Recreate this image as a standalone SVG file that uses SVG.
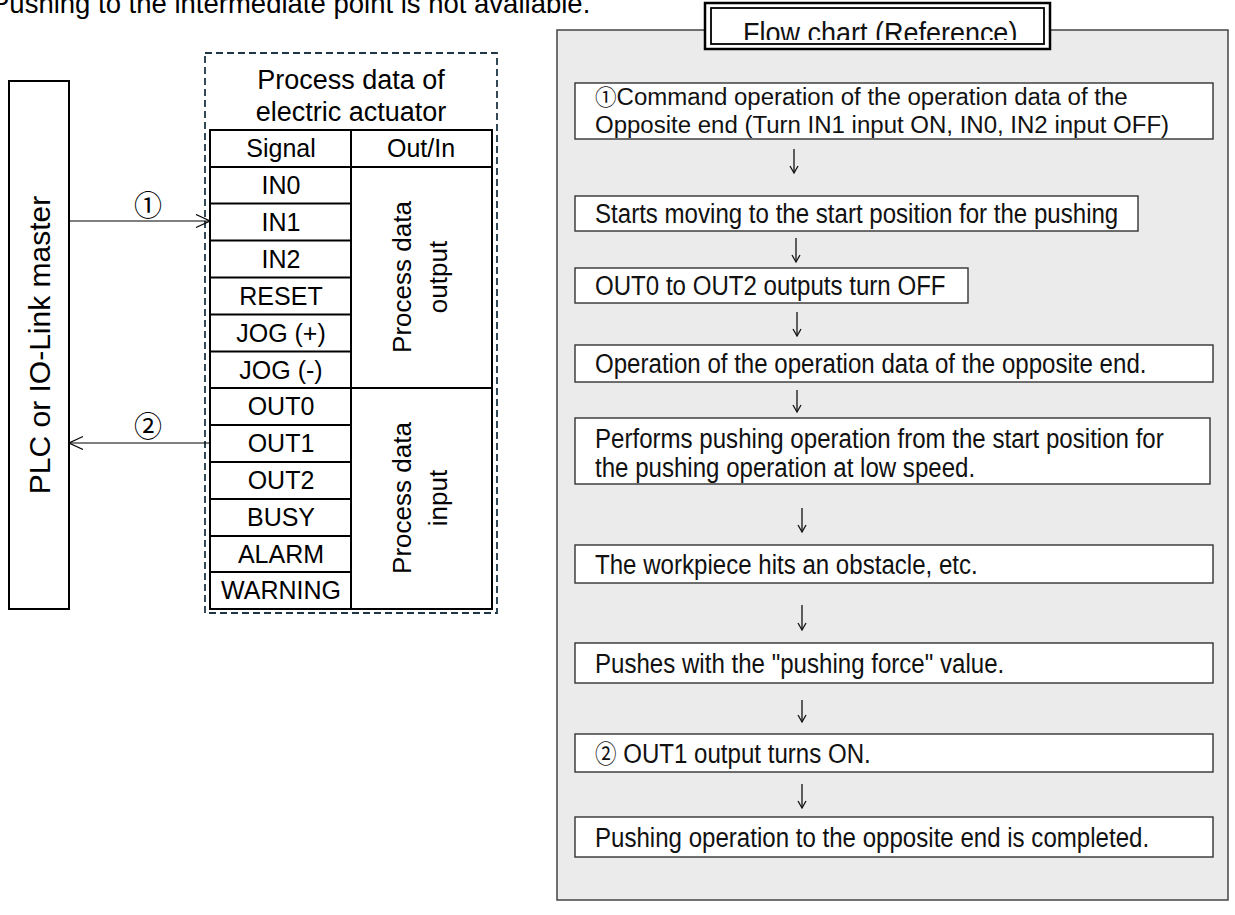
<svg xmlns="http://www.w3.org/2000/svg" width="1235" height="915" viewBox="0 0 1235 915">
<defs>
<style>
.t{font-family:"Liberation Sans","DejaVu Sans",Arial,sans-serif;fill:#000}
.cj{font-family:"Noto Sans CJK JP","Liberation Sans",sans-serif}
.box{fill:#fff;stroke:#000;stroke-width:2}
.cell{fill:none;stroke:#000;stroke-width:2}
.ln{stroke:#000;stroke-width:1.2;fill:none}
.fb{fill:#fff;stroke:#333;stroke-width:1.4}
.ft{font-family:"Liberation Sans","DejaVu Sans",Arial,sans-serif;font-size:28px;fill:#111}
.ft1{font-family:"Liberation Sans","DejaVu Sans",Arial,sans-serif;font-size:24.5px;fill:#111}
.dn{stroke:#111;stroke-width:1.3;fill:none}
</style>
<marker id="ah" markerWidth="16" markerHeight="16" refX="15" refY="7" orient="auto" markerUnits="userSpaceOnUse">
<path d="M1,0.5 L15,7 L1,13.5" fill="none" stroke="#000" stroke-width="1.2"/>
</marker>
<marker id="dh" markerWidth="12" markerHeight="12" refX="5" refY="9" orient="0" markerUnits="userSpaceOnUse">
<path d="M1,2 L5,9 L9,2" fill="none" stroke="#111" stroke-width="1.3"/>
</marker>
<clipPath id="hclip"><rect x="711" y="8" width="333" height="32"/></clipPath>
</defs>

<text class="t" x="-9" y="13" font-size="27.5">Pushing to the intermediate point is not available.</text>

<g id="plc">
<rect class="box" x="9" y="81" width="60" height="528"/>
<text class="t" font-size="30" text-anchor="middle" transform="translate(50,345) rotate(-90)">PLC or IO-Link master</text>
</g>

<g id="actuator">
<rect x="205" y="53" width="292" height="560" fill="none" stroke="#1e3646" stroke-width="1.8" stroke-dasharray="7,4"/>
<text class="t" font-size="27" text-anchor="middle" x="351" y="89">Process data of</text>
<text class="t" font-size="27" text-anchor="middle" x="351" y="121">electric actuator</text>
<rect class="cell" x="210" y="130" width="282" height="479" fill="#fff"/>
<g class="cell">
<line x1="351" y1="130" x2="351" y2="609"/>
<line x1="210" y1="167" x2="492" y2="167"/>
<line x1="210" y1="203.5" x2="351" y2="203.5"/>
<line x1="210" y1="240.5" x2="351" y2="240.5"/>
<line x1="210" y1="277.5" x2="351" y2="277.5"/>
<line x1="210" y1="314.5" x2="351" y2="314.5"/>
<line x1="210" y1="351.5" x2="351" y2="351.5"/>
<line x1="210" y1="388" x2="492" y2="388"/>
<line x1="210" y1="425" x2="351" y2="425"/>
<line x1="210" y1="462" x2="351" y2="462"/>
<line x1="210" y1="499" x2="351" y2="499"/>
<line x1="210" y1="536" x2="351" y2="536"/>
<line x1="210" y1="572" x2="351" y2="572"/>
</g>
<g class="t" font-size="25" text-anchor="middle">
<text x="281" y="157">Signal</text>
<text x="421" y="157">Out/In</text>
<text x="281" y="194">IN0</text>
<text x="281" y="231">IN1</text>
<text x="281" y="268">IN2</text>
<text x="281" y="305">RESET</text>
<text x="281" y="342">JOG (+)</text>
<text x="281" y="379">JOG (-)</text>
<text x="281" y="415">OUT0</text>
<text x="281" y="452">OUT1</text>
<text x="281" y="489">OUT2</text>
<text x="281" y="526">BUSY</text>
<text x="281" y="563">ALARM</text>
<text x="281" y="599">WARNING</text>
</g>
<g class="t" font-size="26" text-anchor="middle">
<text transform="translate(411,277) rotate(-90)">Process data</text>
<text transform="translate(447,277) rotate(-90)">output</text>
<text transform="translate(411,498) rotate(-90)">Process data</text>
<text transform="translate(447,498) rotate(-90)">input</text>
</g>
</g>

<g id="flowchart">
<rect x="557" y="30" width="671" height="870" fill="#ebebeb" stroke="#444" stroke-width="1.5"/>
<g id="header">
<rect x="705" y="3" width="345" height="46" fill="#fff" stroke="#000" stroke-width="2.5"/>
<rect x="711" y="8" width="333" height="36" fill="#fff" stroke="#000" stroke-width="1.8"/>
<g clip-path="url(#hclip)">
<text class="ft" transform="translate(743,43) scale(0.9,1)" style="font-size:30px">Flow chart (Reference)</text>
</g>
</g>
<g id="step1"><rect class="fb" x="575" y="83" width="638" height="56"/>
<g transform="translate(11.9,0) scale(0.98,1)">
<text class="ft1" x="595" y="105"><tspan class="cj" style="font-size:22px">①</tspan>Command operation of the operation data of the</text>
<text class="ft1" x="595" y="133">Opposite end (Turn IN1 input ON, IN0, IN2 input OFF)</text>
</g></g>
<g id="step2"><rect class="fb" x="575" y="196" width="563" height="35"/></g>
<g id="step3"><rect class="fb" x="575" y="268" width="393" height="35"/></g>
<g id="step4"><rect class="fb" x="575" y="345" width="638" height="37"/></g>
<g id="step5"><rect class="fb" x="575" y="418" width="635" height="66"/></g>
<g id="step6"><rect class="fb" x="575" y="545" width="638" height="38"/></g>
<g id="step7"><rect class="fb" x="575" y="643" width="638" height="40"/></g>
<g id="step8"><rect class="fb" x="575" y="734" width="638" height="38"/></g>
<g id="step9"><rect class="fb" x="575" y="817" width="638" height="40"/></g>
<g transform="translate(83.3,0) scale(0.86,1)">
<text class="ft" x="595" y="223">Starts moving to the start position for the pushing</text>
<text class="ft" x="595" y="295">OUT0 to OUT2 outputs turn OFF</text>
<text class="ft" x="595" y="373">Operation of the operation data of the opposite end.</text>
<text class="ft" x="595" y="448">Performs pushing operation from the start position for</text>
<text class="ft" x="595" y="477">the pushing operation at low speed.</text>
<text class="ft" x="595" y="574">The workpiece hits an obstacle, etc.</text>
<text class="ft" x="595" y="673">Pushes with the "pushing force" value.</text>
<text class="ft" x="595" y="763"><tspan class="cj" style="font-size:25px">②</tspan> OUT1 output turns ON.</text>
<text class="ft" x="595" y="847">Pushing operation to the opposite end is completed.</text>
</g>
</g>

<g id="connectors">
<line class="ln" x1="69" y1="221" x2="210" y2="221" marker-end="url(#ah)"/>
<line class="ln" x1="210" y1="443" x2="69" y2="443" marker-end="url(#ah)"/>
<text class="t cj" font-size="28" text-anchor="middle" x="148" y="216">①</text>
<text class="t cj" font-size="28" text-anchor="middle" x="148" y="437">②</text>
<line class="dn" x1="794" y1="149" x2="794" y2="173" marker-end="url(#dh)"/>
<line class="dn" x1="796" y1="238" x2="796" y2="262" marker-end="url(#dh)"/>
<line class="dn" x1="797" y1="312" x2="797" y2="336" marker-end="url(#dh)"/>
<line class="dn" x1="797" y1="390" x2="797" y2="412" marker-end="url(#dh)"/>
<line class="dn" x1="802" y1="508" x2="802" y2="532" marker-end="url(#dh)"/>
<line class="dn" x1="802" y1="605" x2="802" y2="630" marker-end="url(#dh)"/>
<line class="dn" x1="802" y1="700" x2="802" y2="722" marker-end="url(#dh)"/>
<line class="dn" x1="802" y1="784" x2="802" y2="808" marker-end="url(#dh)"/>
</g>
</svg>
